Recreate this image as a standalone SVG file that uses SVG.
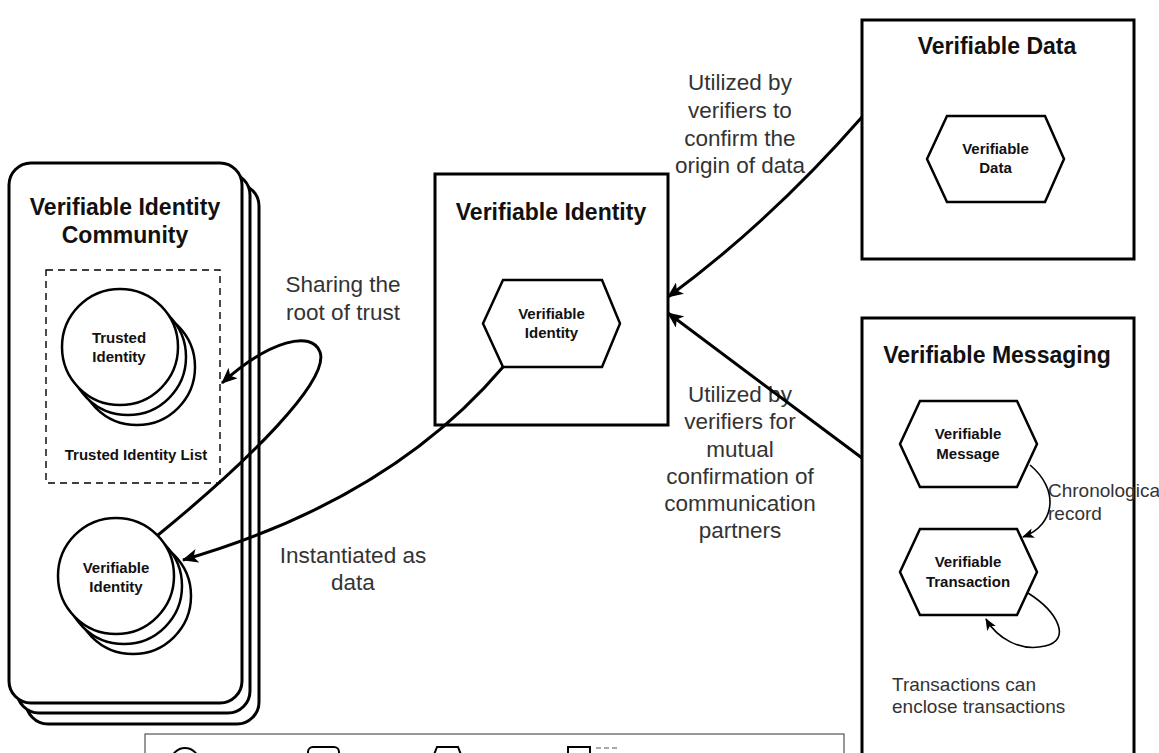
<svg xmlns="http://www.w3.org/2000/svg" width="1159" height="753" viewBox="0 0 1159 753">
  <style>
    .box { fill: #fff; stroke: #000; stroke-width: 3; }
    .shape { fill: #fff; stroke: #000; stroke-width: 2.5; }
    .dash { fill: none; stroke: #000; stroke-width: 1.4; stroke-dasharray: 7 5; }
    .title { font-family: "Liberation Sans", Arial, sans-serif; font-weight: bold; font-size: 23px; fill: #111; text-anchor: middle; }
    .inner { font-family: "Liberation Sans", Arial, sans-serif; font-weight: bold; font-size: 15px; fill: #111; text-anchor: middle; }
    .label { font-family: "Liberation Sans", Arial, sans-serif; font-size: 22.5px; fill: #333; text-anchor: middle; }
    .note { font-family: "Liberation Sans", Arial, sans-serif; font-size: 19px; fill: #333; }
    .edge { fill: none; stroke: #000; stroke-width: 3; }
    .thin { fill: none; stroke: #000; stroke-width: 1.6; }
    .legend { fill: #fff; stroke: #333; stroke-width: 1; }
    .legend-shape { fill: #fff; stroke: #000; stroke-width: 2; }
  </style>
  <defs>
    <marker id="arrow" markerUnits="userSpaceOnUse" markerWidth="16" markerHeight="14" viewBox="0 0 16 14" refX="15" refY="7" orient="auto">
      <path d="M0,0 L16,7 L0,14 L4,7 Z" fill="#000"/>
    </marker>
    <marker id="arrow-small" markerUnits="userSpaceOnUse" markerWidth="12" markerHeight="10" viewBox="0 0 12 10" refX="11" refY="5" orient="auto">
      <path d="M0,0 L12,5 L0,10 L3,5 Z" fill="#000"/>
    </marker>
  </defs>

  <rect width="1159" height="753" fill="#fff"/>

  <!-- Community: stacked rounded cards -->
  <g id="community">
    <rect class="box" x="26" y="184" width="233" height="540" rx="22"/>
    <rect class="box" x="17" y="173" width="233" height="540" rx="22"/>
    <rect class="box" x="9" y="163" width="233" height="540" rx="22"/>
    <text class="title" x="125" y="215">Verifiable Identity</text>
    <text class="title" x="125" y="243">Community</text>
  </g>

  <g id="trusted-identity-list">
    <rect class="dash" x="46" y="270" width="174" height="213"/>
    <text class="inner" x="136" y="460">Trusted Identity List</text>
  </g>

  <g id="trusted-identity">
    <circle class="shape" cx="137" cy="367" r="58"/>
    <circle class="shape" cx="128" cy="357" r="58"/>
    <circle class="shape" cx="120" cy="347" r="58"/>
    <text class="inner" x="119" y="343">Trusted</text>
    <text class="inner" x="119" y="362">Identity</text>
  </g>

  <g id="verifiable-identity-instance">
    <circle class="shape" cx="133" cy="596" r="58"/>
    <circle class="shape" cx="124" cy="586" r="58"/>
    <circle class="shape" cx="116" cy="576" r="58"/>
    <text class="inner" x="116" y="573">Verifiable</text>
    <text class="inner" x="116" y="592">Identity</text>
  </g>

  <!-- Verifiable Identity -->
  <g id="verifiable-identity">
    <rect class="box" x="435" y="174" width="233" height="251"/>
    <text class="title" x="551" y="220">Verifiable Identity</text>
    <polygon class="shape" points="483,323.5 503,280 602,280 620,323.5 602,367 503,367"/>
    <text class="inner" x="551.5" y="319">Verifiable</text>
    <text class="inner" x="551.5" y="338">Identity</text>
  </g>

  <!-- Verifiable Data -->
  <g id="verifiable-data">
    <rect class="box" x="862" y="20" width="272" height="239"/>
    <text class="title" x="997" y="54">Verifiable Data</text>
    <polygon class="shape" points="927,159 947,116 1045,116 1064,159 1045,202 947,202"/>
    <text class="inner" x="995.5" y="154">Verifiable</text>
    <text class="inner" x="995.5" y="173">Data</text>
  </g>

  <!-- Verifiable Messaging -->
  <g id="verifiable-messaging">
    <rect class="box" x="862" y="318" width="272" height="460"/>
    <text class="title" x="997" y="363">Verifiable Messaging</text>
    <text class="note" x="892" y="691">Transactions can</text>
    <text class="note" x="892" y="713">enclose transactions</text>
  </g>

  <g id="verifiable-message">
    <polygon class="shape" points="900,444 920,401 1017,401 1037,444 1017,487 920,487"/>
    <text class="inner" x="968" y="439">Verifiable</text>
    <text class="inner" x="968" y="459">Message</text>
  </g>

  <g id="verifiable-transaction">
    <polygon class="shape" points="900,572 920,529 1017,529 1037,572 1017,615 920,615"/>
    <text class="inner" x="968" y="567">Verifiable</text>
    <text class="inner" x="968" y="587">Transaction</text>
  </g>

  <!-- Legend strip -->
  <g id="legend">
    <rect class="legend" x="145" y="734" width="699" height="60"/>
    <circle class="legend-shape" cx="185" cy="762" r="14"/>
    <rect class="legend-shape" x="308" y="747" width="31" height="30" rx="5"/>
    <polygon class="legend-shape" points="428,770 437,747 458,747 467,770"/>
    <rect class="legend-shape" x="568" y="747" width="22" height="22"/>
    <line x1="596" y1="748" x2="618" y2="748" stroke="#aaa" stroke-width="2" stroke-dasharray="5 3"/>
  </g>

  <!-- Connectors and their labels -->
  <g id="connectors">
    <text class="label" x="740" y="90">Utilized by</text>
    <text class="label" x="740" y="118">verifiers to</text>
    <text class="label" x="740" y="146">confirm the</text>
    <text class="label" x="740" y="173">origin of data</text>

    <text class="label" x="740" y="402">Utilized by</text>
    <text class="label" x="740" y="429">verifiers for</text>
    <text class="label" x="740" y="457">mutual</text>
    <text class="label" x="740" y="484">confirmation of</text>
    <text class="label" x="740" y="511">communication</text>
    <text class="label" x="740" y="538">partners</text>

    <text class="label" x="343" y="292">Sharing the</text>
    <text class="label" x="343" y="320">root of trust</text>

    <text class="label" x="353" y="563">Instantiated as</text>
    <text class="label" x="353" y="590">data</text>

    <text class="note" x="1048" y="497">Chronological</text>
    <text class="note" x="1048" y="520">record</text>

    <path class="edge" d="M862,117 Q770,222 668,297" marker-end="url(#arrow)"/>
    <path class="edge" d="M862,458 L668,313" marker-end="url(#arrow)"/>
    <path class="edge" d="M158,535 C250,460 330,380 320,352 C312,330 270,340 222,383" marker-end="url(#arrow)"/>
    <path class="edge" d="M503,367 Q390,500 183,560" marker-end="url(#arrow)"/>
    <path class="thin" d="M1030,465 C1060,490 1055,525 1023,537" marker-end="url(#arrow-small)"/>
    <path class="thin" d="M1028,593 C1058,612 1072,640 1045,646 C1020,652 997,638 986,619" marker-end="url(#arrow-small)"/>
  </g>
</svg>
